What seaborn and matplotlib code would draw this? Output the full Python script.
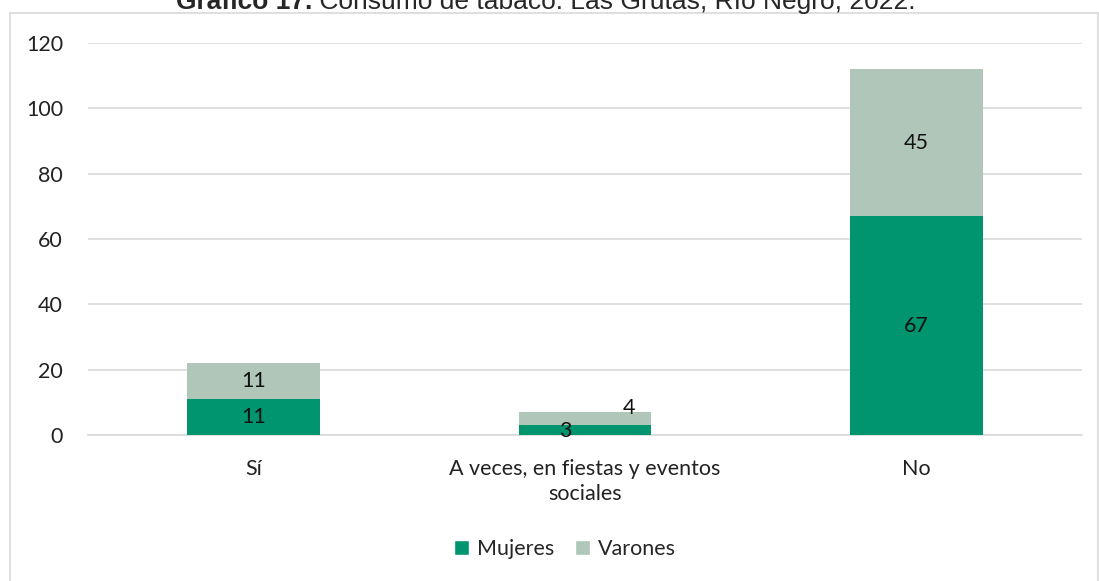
import numpy as np
import pandas as pd
import seaborn as sns
import matplotlib.pyplot as plt
from matplotlib.patches import Rectangle, Patch

sns.set_theme(style="white")
plt.rcParams['font.family'] = ['Lato', 'DejaVu Sans']

categorias = ["Sí", "A veces, en fiestas y eventos\nsociales", "No"]
mujeres = [11, 3, 67]
varones = [11, 4, 45]
yticks = [0, 20, 40, 60, 80, 100, 120]

col_muj = "#00956F"
col_var = "#AFC6B9"
col_grid = "#D9D9D9"
fs = 15.5

df = pd.DataFrame({"cat": categorias, "Mujeres": mujeres, "Varones": varones})
df["total"] = df["Mujeres"] + df["Varones"]

W, H = 1099, 581
fig = plt.figure(figsize=(W / 100, H / 100), dpi=100)
ax = fig.add_axes([88 / W, 1 - 435 / H, (1082 - 88) / W, (435 - 43) / H])

# apilado: total en color varones, mujeres encima
sns.barplot(data=df, x="cat", y="total", color=col_var, width=0.4, ax=ax,
            saturation=1, linewidth=0, zorder=3)
sns.barplot(data=df, x="cat", y="Mujeres", color=col_muj, width=0.4, ax=ax,
            saturation=1, linewidth=0, zorder=3)

ax.set_xlim(-0.5, 2.5)
ax.set_ylim(0, 120)
ax.set_yticks(yticks)
ax.set_xlabel("")
ax.set_ylabel("")
ax.grid(axis="y", color=col_grid, linewidth=1.2, zorder=0)
ax.set_axisbelow(True)
for s in ["left", "right", "top"]:
    ax.spines[s].set_visible(False)
ax.spines["bottom"].set_color(col_grid)
ax.spines["bottom"].set_linewidth(1.2)
ax.tick_params(axis="both", length=0, labelsize=fs, colors="#222222")
ax.tick_params(axis="y", pad=18)
ax.tick_params(axis="x", pad=17)
for lab in ax.get_xticklabels():
    lab.set_linespacing(1.35)

# etiquetas de datos
for i, (m, v) in enumerate(zip(mujeres, varones)):
    if m + v < 10:
        ax.annotate(str(m), (i, m), xytext=(-14, -4), textcoords="offset points",
                    ha="center", va="center", fontsize=fs, color="#111111", zorder=5)
        ax.annotate(str(v), (i, m + v), xytext=(32, 3), textcoords="offset points",
                    ha="center", va="center", fontsize=fs, color="#111111", zorder=5)
    else:
        ax.text(i, m / 2, str(m), ha="center", va="center", fontsize=fs,
                color="#111111", zorder=5)
        ax.text(i, m + v / 2, str(v), ha="center", va="center", fontsize=fs,
                color="#111111", zorder=5)

handles = [Patch(facecolor=col_muj, label="Mujeres"), Patch(facecolor=col_var, label="Varones")]
fig.legend(handles=handles, loc="center", bbox_to_anchor=(565 / W, 1 - 549 / H), ncol=2,
           frameon=False, fontsize=fs, handlelength=0.7, handleheight=0.7,
           handletextpad=0.35, columnspacing=1.0)

# borde del área del gráfico
fig.patches.append(Rectangle((10 / W, -0.01), (W - 11) / W, 1 - 13 / H + 0.01,
                             transform=fig.transFigure, fill=False,
                             edgecolor=col_grid, linewidth=1.2, zorder=0))

# título (recortado arriba como en el original)
tfont = ['Liberation Sans', 'DejaVu Sans']
ty = 1 - 9 / H
t1 = fig.text(0, ty, "Gráfico 17.", fontsize=19, fontweight="bold", family=tfont,
              va="baseline", ha="left")
t2 = fig.text(0, ty, " Consumo de tabaco. Las Grutas, Río Negro, 2022.", fontsize=19,
              family=tfont, va="baseline", ha="left")
r = fig.canvas.get_renderer()
w1 = t1.get_window_extent(r).width
w2 = t2.get_window_extent(r).width
x0 = 546 - (w1 + w2) / 2
t1.set_x(x0 / W)
t2.set_x((x0 + w1) / W)

fig.savefig("out.png", dpi=100)
